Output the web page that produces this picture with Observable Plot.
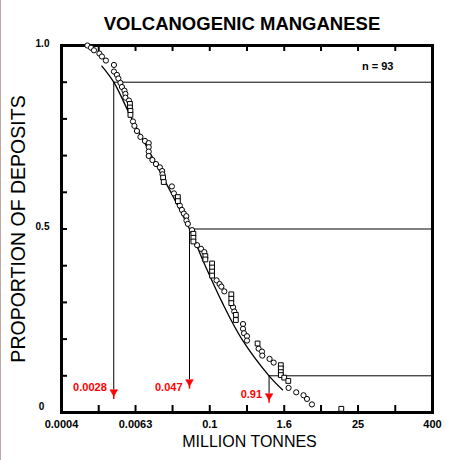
<!DOCTYPE html>
<html><head><meta charset="utf-8">
<script src="https://cdn.jsdelivr.net/npm/d3@7"></script>
<script src="https://cdn.jsdelivr.net/npm/@observablehq/plot@0.6"></script>
<style>
html,body{margin:0;padding:0;background:#fff;}
#chart{position:relative;width:463px;height:460px;overflow:hidden;}
#edge{position:absolute;left:0;top:0;width:1px;height:460px;background:#bda9a3;}
</style></head><body><div id="chart"><div id="edge"></div></div>
<script>
const title = "VOLCANOGENIC MANGANESE";
const xTitle = "MILLION TONNES";
const yTitle = "PROPORTION OF DEPOSITS";
const countLabel = "n = 93";

// deposit tonnages (million tonnes) and their cumulative proportion
const tonnage = [0.00105,0.00120,0.00134,0.00164,0.00180,0.00209,0.00282,0.00282,0.00315,0.00333,
  0.00359,0.00380,0.00417,0.00432,0.00432,0.00493,0.00512,0.00512,0.00521,0.00521,
  0.00572,0.00604,0.00664,0.00756,0.00894,0.0103,0.0103,0.0103,0.0103,0.0118,
  0.0135,0.0156,0.0170,0.0172,0.0176,0.0180,0.0244,0.0263,0.0305,0.0305,
  0.0328,0.0354,0.0381,0.0418,0.0420,0.0442,0.0517,0.0543,0.0543,0.0543,
  0.0623,0.0723,0.0817,0.0848,0.0848,0.109,0.109,0.109,0.109,0.129,
  0.144,0.154,0.172,0.223,0.223,0.223,0.238,0.249,0.264,0.264,
  0.345,0.345,0.358,0.400,0.400,0.593,0.616,0.699,0.707,0.927,
  1.08,1.41,1.41,1.41,1.41,1.60,1.86,1.88,2.50,3.28,
  3.73,4.49,13.4];
const proportion = [1.000,0.994,0.987,0.978,0.970,0.959,0.947,0.929,0.920,0.910,
  0.898,0.887,0.877,0.868,0.858,0.850,0.841,0.831,0.822,0.811,
  0.793,0.781,0.767,0.751,0.740,0.734,0.723,0.711,0.699,0.688,
  0.677,0.668,0.658,0.649,0.640,0.628,0.616,0.597,0.587,0.576,
  0.564,0.552,0.542,0.535,0.523,0.514,0.497,0.487,0.476,0.466,
  0.456,0.446,0.437,0.426,0.417,0.406,0.395,0.384,0.373,0.360,
  0.350,0.343,0.330,0.322,0.310,0.298,0.287,0.275,0.266,0.252,
  0.241,0.228,0.216,0.208,0.196,0.188,0.174,0.166,0.155,0.146,
  0.136,0.129,0.120,0.110,0.102,0.095,0.086,0.067,0.055,0.047,
  0.037,0.022,0.010];
const marker = ["c","c","c","c","c","c","c","c","c","c",
  "c","c","c","c","c","c","s","s","s","s",
  "c","c","c","c","c","c","c","c","c","c",
  "c","c","c","c","s","s","c","c","s","s",
  "c","c","c","c","c","c","c","s","s","s",
  "c","c","c","s","s","s","s","s","s","c",
  "c","c","c","s","s","s","c","c","s","s",
  "c","c","c","c","c","s","c","c","c","c",
  "c","s","s","s","s","s","s","c","c","c",
  "c","c","s"];

// fitted curve
const curveTonnage = [0.0018,0.0028,0.0055,0.0114,0.0235,0.047,0.0845,0.1585,0.33,0.91,1.5];
const curveProportion = [0.944,0.9,0.8,0.7,0.6,0.5,0.4,0.3,0.2,0.1,0.062];

// 90th, 50th, 10th percentile tonnages
const levels = [0.9, 0.5, 0.1];
const levelTonnage = [0.0028, 0.047, 0.91];
const levelLabels = ["0.0028", "0.047", "0.91"];
const levelLabelP = [0.0673, 0.0695, 0.0499];
const arrowTopP = [0.0619, 0.0891, 0.0510];
const arrowHeadP = [0.0561, 0.0834, 0.0452];
const arrowEndP = [0.0354, 0.0635, 0.0253];

const xMajorTicks = [0.0004, 0.0063, 0.1, 1.6, 25, 400];
const xMajorLabels = ["0.0004", "0.0063", "0.1", "1.6", "25", "400"];
const xMinorTicks = [0.0016, 0.0063, 0.025, 0.1, 0.4, 1.6, 6.3, 25, 100];
const yTicks = [0.1, 0.2, 0.3, 0.4, 0.5, 0.6, 0.7, 0.8, 0.9];
const yLabelValues = [1, 0.5];
const yLabels = ["1.0", "0.5"];
const yZeroLabel = ["0"];

const pts = tonnage.map((t, i) => ({t, p: proportion[i], m: marker[i]}));
const curve = curveTonnage.map((t, i) => ({t, p: curveProportion[i]}));
const lv = levels.map((p, i) => ({p, t: levelTonnage[i], label: levelLabels[i], lp: levelLabelP[i],
  top: arrowTopP[i], head: arrowHeadP[i], end: arrowEndP[i]}));

const downTriangle = {draw(ctx, size) {
  const y = Math.sqrt(size / (Math.sqrt(3) * 3));
  const w = Math.sqrt(3) * y;
  ctx.moveTo(-w, -y); ctx.lineTo(w, -y); ctx.lineTo(0, 2 * y); ctx.closePath();
}};

const font = "'Liberation Sans', Arial, Helvetica, sans-serif";
const H = 460, W = 463, mL = 61, mR = 31, mT = 45, mB = 48;
const fh = H - mT - mB, fw = W - mL - mR;
const xMax = 400;

const plot = Plot.plot({
  width: W, height: H, marginLeft: mL, marginRight: mR, marginTop: mT, marginBottom: mB,
  style: {fontFamily: font, background: "white", color: "black", overflow: "visible"},
  x: {type: "log", domain: [0.0004, xMax], axis: null},
  y: {domain: [0, 1], axis: null},
  marks: [
    Plot.ruleX(xMinorTicks, {x: d => d, insetTop: fh - 7, stroke: "black", strokeWidth: 2}),
    Plot.ruleX(xMinorTicks, {x: d => d, insetBottom: fh - 6, stroke: "black", strokeWidth: 2}),
    Plot.ruleY(yTicks, {y: d => d, insetRight: fw - 6, stroke: "black", strokeWidth: 2}),
    Plot.ruleY(lv, {y: "p", x1: "t", x2: () => xMax, stroke: "black", strokeWidth: 1}),
    Plot.ruleX(lv, {x: "t", y1: "p", y2: "top", stroke: "black", strokeWidth: 1}),
    Plot.ruleX(lv, {x: "t", y1: "head", y2: "end", stroke: "#f00", strokeWidth: 1.5}),
    Plot.dot(lv, {x: "t", y: "head", symbol: downTriangle, r: 2.8, fill: "#f00", stroke: "#f00", strokeWidth: 0.6}),
    Plot.text(lv, {x: "t", y: "lp", text: "label", textAnchor: "end", dx: -7, lineAnchor: "middle",
      fill: "#f00", fontWeight: "bold", fontSize: 11}),
    Plot.line(curve, {x: "t", y: "p", curve: "catmull-rom", stroke: "black", strokeWidth: 1.3}),
    Plot.frame({stroke: "black", strokeWidth: 3}),
    Plot.dot(pts.filter(d => d.m === "c"), {x: "t", y: "p", r: 2.6, fill: "white", stroke: "black", strokeWidth: 1}),
    Plot.dot(pts.filter(d => d.m === "s"), {x: "t", y: "p", symbol: "square", r: 2.7, fill: "white", stroke: "black", strokeWidth: 1}),
    Plot.text(xMajorTicks, {x: d => d, text: (d, i) => xMajorLabels[i], frameAnchor: "bottom", dy: 11.5,
      lineAnchor: "middle", textAnchor: "middle", fontWeight: "bold", fontSize: 11}),
    Plot.text(yLabelValues, {y: d => d, text: (d, i) => yLabels[i], frameAnchor: "left", dx: -19, dy: -2,
      lineAnchor: "middle", textAnchor: "middle", fontWeight: "bold", fontSize: 10}),
    Plot.text(yZeroLabel, {y: () => 0, text: d => d, frameAnchor: "left", dx: -20, dy: -6,
      lineAnchor: "middle", textAnchor: "middle", fontWeight: "bold", fontSize: 10}),
    Plot.text([countLabel], {text: d => d, frameAnchor: "top-right", dx: -39, dy: 21,
      textAnchor: "end", lineAnchor: "middle", fontWeight: "bold", fontSize: 11}),
    Plot.text([title], {text: d => d, frameAnchor: "top", dx: -5, dy: -21,
      lineAnchor: "middle", textAnchor: "middle", fontWeight: "bold", fontSize: 18.5}),
    Plot.text([xTitle], {text: d => d, frameAnchor: "bottom", dx: 2.5, dy: 29,
      lineAnchor: "middle", textAnchor: "middle", fontSize: 16}),
    Plot.text([yTitle], {text: d => d, frameAnchor: "left", dx: -43, rotate: -90,
      lineAnchor: "middle", textAnchor: "middle", fontSize: 19.5})
  ]
});
document.getElementById("chart").appendChild(plot);
</script>
</body></html>
